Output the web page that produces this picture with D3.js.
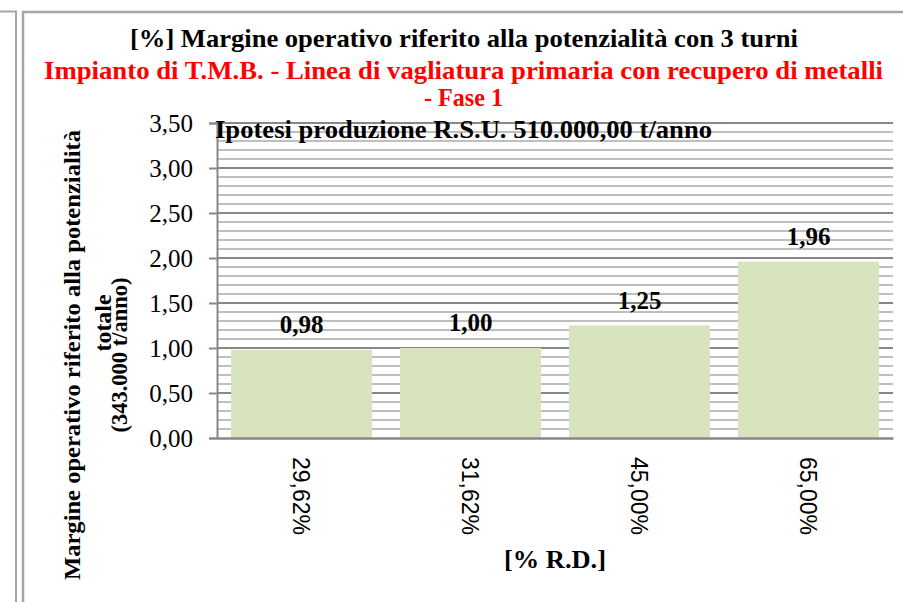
<!DOCTYPE html>
<html>
<head>
<meta charset="utf-8">
<script src="https://cdn.jsdelivr.net/npm/d3@7"></script>
<style>
  body { margin: 0; background: #fff; }
  svg { display: block; }
</style>
</head>
<body>
<div id="chart"></div>
<script>
// Values
const categories = ["29,62%", "31,62%", "45,00%", "65,00%"];
const values = [0.98, 1.00, 1.25, 1.96];
const yTicks = [0, 0.5, 1, 1.5, 2, 2.5, 3, 3.5];
const yMinorTicks = [0.1, 0.2, 0.3, 0.4, 0.6, 0.7, 0.8, 0.9, 1.1, 1.2, 1.3, 1.4,
  1.6, 1.7, 1.8, 1.9, 2.1, 2.2, 2.3, 2.4, 2.6, 2.7, 2.8, 2.9, 3.1, 3.2, 3.3, 3.4];
const titleLine = "[%] Margine operativo riferito alla potenzialità con 3 turni";
const redLines = ["Impianto di T.M.B. - Linea di vagliatura primaria con recupero di metalli", "- Fase 1"];
const subtitle = "Ipotesi produzione R.S.U. 510.000,00 t/anno";
const yTitle = ["Margine operativo riferito alla potenzialità", "totale", "(343.000 t/anno)"];
const xTitle = "[% R.D.]";

const W = 903, H = 602;
const serif = "'Liberation Serif', 'Times New Roman', serif";
const sans = "'Liberation Sans', Arial, sans-serif";

const it = d3.formatLocale({ decimal: ",", thousands: ".", grouping: [3], currency: ["", " €"] });
const fmt = it.format(".2f");

const svg = d3.select("#chart").append("svg")
  .attr("width", W).attr("height", H);

// outer frames
svg.append("path")
  .attr("d", "M0,11.5 H16 V602")
  .attr("fill", "none").attr("stroke", "#a6a6a6").attr("stroke-width", 2);
svg.append("path")
  .attr("d", "M23,602 V12 H903")
  .attr("fill", "none").attr("stroke", "#a6a6a6").attr("stroke-width", 2.5);

const x = d3.scaleBand().domain(categories).range([217, 893])
  .paddingInner(0.166).paddingOuter(0.083);
const y = d3.scaleLinear().domain([0, 3.5]).range([438, 123]);

// minor grid
svg.append("g").selectAll("line").data(yMinorTicks).enter().append("line")
  .attr("x1", 217).attr("x2", 893)
  .attr("y1", d => y(d)).attr("y2", d => y(d))
  .attr("stroke", "#bfbfbf").attr("stroke-width", 1.8);

// major grid
svg.append("g").selectAll("line").data(yTicks.slice(1)).enter().append("line")
  .attr("x1", 217).attr("x2", 893)
  .attr("y1", d => y(d)).attr("y2", d => y(d))
  .attr("stroke", "#888").attr("stroke-width", 2);

// bars
svg.append("g").selectAll("rect").data(values).enter().append("rect")
  .attr("x", (d, i) => x(categories[i]))
  .attr("width", x.bandwidth())
  .attr("y", d => y(d))
  .attr("height", d => y(0) - y(d))
  .attr("fill", "#d7e4bd");

// value labels
svg.append("g").selectAll("text").data(values).enter().append("text")
  .attr("x", (d, i) => x(categories[i]) + x.bandwidth() / 2)
  .attr("y", d => y(d) - 17)
  .attr("text-anchor", "middle")
  .style("font-family", serif).style("font-weight", "bold").style("font-size", "25px")
  .text(d => fmt(d));

// y axis
const yAxis = svg.append("g").attr("transform", "translate(217,0)")
  .call(d3.axisLeft(y).tickValues(yTicks).tickFormat(fmt).tickSize(8).tickPadding(16));
yAxis.select(".domain").attr("stroke", "#888").attr("stroke-width", 2);
yAxis.selectAll(".tick line").attr("stroke", "#888").attr("stroke-width", 2);
yAxis.selectAll(".tick text")
  .style("font-family", serif).style("font-size", "25px").attr("fill", "#000");

// x axis line
const xAxis = svg.append("g").attr("transform", "translate(0,438)")
  .call(d3.axisBottom(x).tickSize(0).tickPadding(0));
xAxis.select(".domain").attr("stroke", "#888").attr("stroke-width", 2.5);
xAxis.selectAll(".tick text")
  .attr("transform", "translate(0,19) rotate(90)")
  .attr("x", 0).attr("y", 0).attr("dy", "0.35em")
  .attr("text-anchor", "start")
  .style("font-family", sans).style("font-size", "23px").attr("fill", "#000");

// titles
svg.append("text")
  .attr("x", 464).attr("y", 47).attr("text-anchor", "middle")
  .attr("textLength", 668).attr("lengthAdjust", "spacingAndGlyphs")
  .style("font-family", serif).style("font-weight", "bold").style("font-size", "26px")
  .text(titleLine);

svg.append("text")
  .attr("x", 463.5).attr("y", 79).attr("text-anchor", "middle")
  .attr("textLength", 839).attr("lengthAdjust", "spacingAndGlyphs")
  .style("font-family", serif).style("font-weight", "bold").style("font-size", "26px")
  .attr("fill", "#ff0000")
  .text(redLines[0]);

svg.append("text")
  .attr("x", 463.5).attr("y", 106).attr("text-anchor", "middle")
  .attr("textLength", 79).attr("lengthAdjust", "spacingAndGlyphs")
  .style("font-family", serif).style("font-weight", "bold").style("font-size", "26px")
  .attr("fill", "#ff0000")
  .text(redLines[1]);

svg.append("text")
  .attr("x", 215).attr("y", 138).attr("text-anchor", "start")
  .attr("textLength", 497).attr("lengthAdjust", "spacingAndGlyphs")
  .style("font-family", serif).style("font-weight", "bold").style("font-size", "25px")
  .text(subtitle);

// y title
const yTitlePos = [
  { bx: 80, cy: 355, len: 450 },
  { bx: 111, cy: 323, len: 57 },
  { bx: 127, cy: 355, len: 155 }
];
svg.append("g").selectAll("text").data(yTitle).enter().append("text")
  .attr("transform", (d, i) => `translate(${yTitlePos[i].bx},${yTitlePos[i].cy}) rotate(-90)`)
  .attr("text-anchor", "middle")
  .attr("textLength", (d, i) => yTitlePos[i].len).attr("lengthAdjust", "spacingAndGlyphs")
  .style("font-family", serif).style("font-weight", "bold").style("font-size", "24px")
  .text(d => d);

// x title
svg.append("text")
  .attr("x", 555).attr("y", 568).attr("text-anchor", "middle")
  .attr("textLength", 102).attr("lengthAdjust", "spacingAndGlyphs")
  .style("font-family", serif).style("font-weight", "bold").style("font-size", "26px")
  .text(xTitle);
</script>
</body>
</html>
